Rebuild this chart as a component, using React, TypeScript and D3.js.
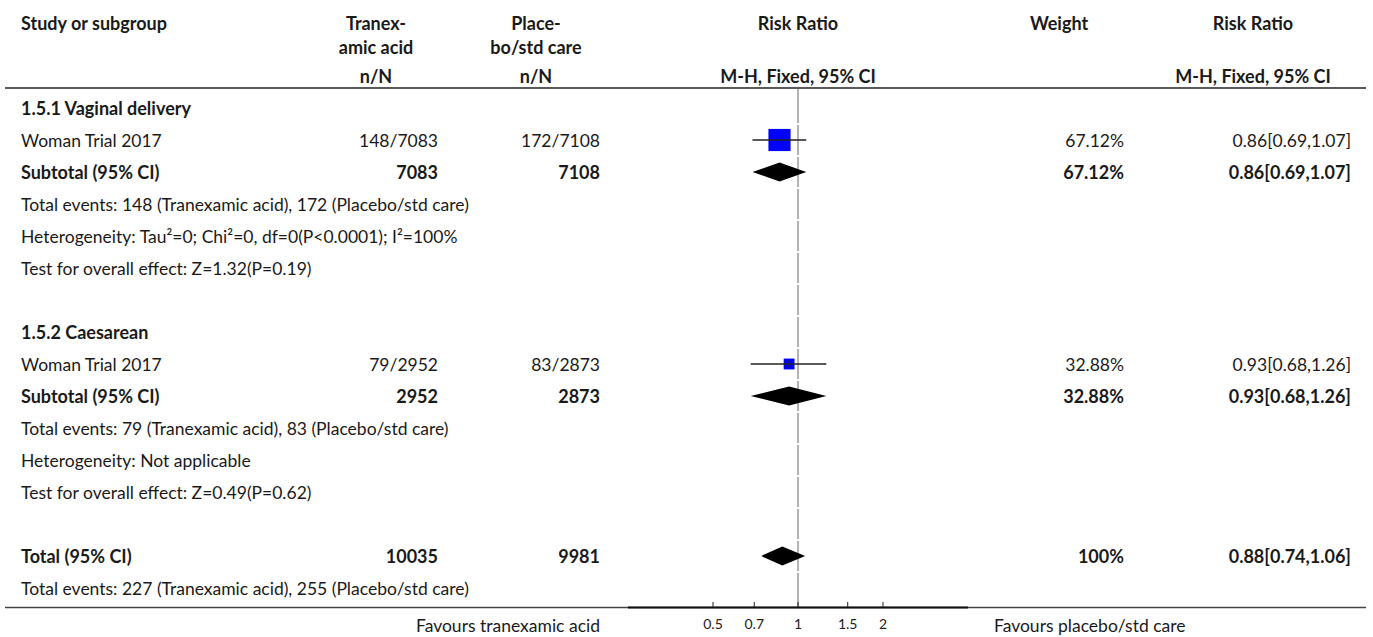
import * as d3 from "d3";

// forest plot: tranexamic acid vs placebo/std care, by mode of delivery
const groupLabels = ["1.5.1 Vaginal delivery", "1.5.2 Caesarean"];
const studyNames = ["Woman Trial 2017", "Woman Trial 2017"];
const txEvents = [148, 79];
const txTotal = [7083, 2952];
const ctEvents = [172, 83];
const ctTotal = [7108, 2873];
const studyRR = [0.86, 0.93];
const studyLo = [0.69, 0.68];
const studyHi = [1.07, 1.26];
const weights = [67.12, 32.88];
const heterogeneity = [
  "Heterogeneity: Tau\u00b2=0; Chi\u00b2=0, df=0(P<0.0001); I\u00b2=100%",
  "Heterogeneity: Not applicable",
];
const overallEffect = [
  "Test for overall effect: Z=1.32(P=0.19)",
  "Test for overall effect: Z=0.49(P=0.62)",
];
const totalN = [10035, 9981];
const totalEvents = [227, 255];
const totalRR = [0.88, 0.74, 1.06];
const axisTicks = [0.5, 0.7, 1, 1.5, 2];

const W = 1373;
const H = 637;
const FONT = "Lato, 'Noto Sans', sans-serif";
const fmt = d3.format(".2f");

export default function App() {
  const x = d3.scaleLog().domain([0.25, 4]).range([628, 968]);
  const size = d3.scaleLinear().domain([0, 100]).range([0, 33]);
  const rowY = (i: number) => 108 + 32 * i;
  const axisY = 607.5;

  const colStudy = 21;
  const colTx = 438;
  const colCt = 600;
  const colW = 1124;
  const colRR = 1351;

  const ciText = (m: number, lo: number, hi: number) => `${fmt(m)}[${fmt(lo)},${fmt(hi)}]`;

  const rows: any[] = [];
  groupLabels.forEach((g, k) => {
    const base = k * 7;
    rows.push({ i: base, kind: "group", label: g });
    rows.push({ i: base + 1, kind: "study", k });
    rows.push({ i: base + 2, kind: "subtotal", k });
    rows.push({ i: base + 3, kind: "note", label: `Total events: ${txEvents[k]} (Tranexamic acid), ${ctEvents[k]} (Placebo/std care)` });
    rows.push({ i: base + 4, kind: "note", label: heterogeneity[k] });
    rows.push({ i: base + 5, kind: "note", label: overallEffect[k] });
  });

  const diamond = (y: number, m: number, lo: number, hi: number) =>
    `M${x(lo)},${y} L${x(m)},${y - 9.5} L${x(hi)},${y} L${x(m)},${y + 9.5} Z`;

  const textBase = { fontFamily: FONT, fontSize: 17.5, fill: "#1a1a1a", dominantBaseline: "central" as const };
  const bold = { ...textBase, fontSize: 18, fontWeight: 700 };

  // grey reference line at RR=1, drawn in row-sized segments
  const refSegs = d3.range(16).map((i) => [i === 0 ? 89 : rowY(i) - 15, i === 15 ? axisY : rowY(i) + 15]);

  return (
    <svg width={W} height={H} style={{ position: "absolute", left: 0, top: 0, background: "#fff" }}>
      {/* header */}
      <text x={colStudy} y={23} {...bold}>Study or subgroup</text>
      <text x={376} y={23} textAnchor="middle" {...bold}>Tranex-</text>
      <text x={376} y={47} textAnchor="middle" {...bold}>amic acid</text>
      <text x={376} y={76} textAnchor="middle" {...bold}>n/N</text>
      <text x={536} y={23} textAnchor="middle" {...bold}>Place-</text>
      <text x={536} y={47} textAnchor="middle" {...bold}>bo/std care</text>
      <text x={536} y={76} textAnchor="middle" {...bold}>n/N</text>
      <text x={x(1)} y={23} textAnchor="middle" {...bold}>Risk Ratio</text>
      <text x={x(1)} y={76} textAnchor="middle" {...bold}>M-H, Fixed, 95% CI</text>
      <text x={1059} y={23} textAnchor="middle" {...bold}>Weight</text>
      <text x={1253} y={23} textAnchor="middle" {...bold}>Risk Ratio</text>
      <text x={1253} y={76} textAnchor="middle" {...bold}>M-H, Fixed, 95% CI</text>
      <line x1={5} x2={1366} y1={88} y2={88} stroke="#222" strokeWidth={1.5} />

      {refSegs.map(([a, b], j) => (
        <line key={j} x1={x(1)} x2={x(1)} y1={a} y2={b} stroke="#9a9a9a" strokeWidth={1.5} />
      ))}

      {rows.map((r) => {
        const y = rowY(r.i);
        if (r.kind === "group") return <text key={r.i} x={colStudy} y={y} {...bold}>{r.label}</text>;
        if (r.kind === "note") return <text key={r.i} x={colStudy} y={y} {...textBase}>{r.label}</text>;
        const k = r.k;
        if (r.kind === "study") {
          const s = size(weights[k]);
          return (
            <g key={r.i}>
              <text x={colStudy} y={y} {...textBase}>{studyNames[k]}</text>
              <text x={colTx} y={y} textAnchor="end" {...textBase}>{`${txEvents[k]}/${txTotal[k]}`}</text>
              <text x={colCt} y={y} textAnchor="end" {...textBase}>{`${ctEvents[k]}/${ctTotal[k]}`}</text>
              <rect x={x(studyRR[k]) - s / 2} y={y - s / 2} width={s} height={s} fill="#0000ff" />
              <line x1={x(studyLo[k])} x2={x(studyHi[k])} y1={y} y2={y} stroke="#222" strokeWidth={1.5} />
              <line x1={x(studyRR[k])} x2={x(studyRR[k])} y1={y - 4} y2={y + 4} stroke="#222" strokeWidth={1.2} />
              <text x={colW} y={y} textAnchor="end" {...textBase}>{`${weights[k]}%`}</text>
              <text x={colRR} y={y} textAnchor="end" {...textBase}>{ciText(studyRR[k], studyLo[k], studyHi[k])}</text>
            </g>
          );
        }
        return (
          <g key={r.i}>
            <text x={colStudy} y={y} {...bold}>Subtotal (95% CI)</text>
            <text x={colTx} y={y} textAnchor="end" {...bold}>{txTotal[k]}</text>
            <text x={colCt} y={y} textAnchor="end" {...bold}>{ctTotal[k]}</text>
            <path d={diamond(y, studyRR[k], studyLo[k], studyHi[k])} fill="#000" />
            <text x={colW} y={y} textAnchor="end" {...bold}>{`${weights[k]}%`}</text>
            <text x={colRR} y={y} textAnchor="end" {...bold}>{ciText(studyRR[k], studyLo[k], studyHi[k])}</text>
          </g>
        );
      })}

      {/* overall */}
      <text x={colStudy} y={rowY(14)} {...bold}>Total (95% CI)</text>
      <text x={colTx} y={rowY(14)} textAnchor="end" {...bold}>{totalN[0]}</text>
      <text x={colCt} y={rowY(14)} textAnchor="end" {...bold}>{totalN[1]}</text>
      <path d={diamond(rowY(14), totalRR[0], totalRR[1], totalRR[2])} fill="#000" />
      <text x={colW} y={rowY(14)} textAnchor="end" {...bold}>{`${d3.sum(weights).toFixed(0)}%`}</text>
      <text x={colRR} y={rowY(14)} textAnchor="end" {...bold}>{ciText(totalRR[0], totalRR[1], totalRR[2])}</text>
      <text x={colStudy} y={rowY(15)} {...textBase}>
        {`Total events: ${totalEvents[0]} (Tranexamic acid), ${totalEvents[1]} (Placebo/std care)`}
      </text>

      {/* bottom rule + axis */}
      <line x1={5} x2={1366} y1={axisY} y2={axisY} stroke="#444" strokeWidth={1.3} />
      <line x1={x.range()[0]} x2={x.range()[1]} y1={axisY} y2={axisY} stroke="#111" strokeWidth={2} />
      {axisTicks.map((t) => (
        <g key={t}>
          <line x1={x(t)} x2={x(t)} y1={602} y2={607} stroke="#222" strokeWidth={1} />
          <text x={x(t)} y={623} textAnchor="middle" fontFamily={FONT} fontSize={14} fill="#222" dominantBaseline="central">{t}</text>
        </g>
      ))}
      <text x={600} y={625} textAnchor="end" {...textBase}>Favours tranexamic acid</text>
      <text x={994} y={625} {...textBase}>Favours placebo/std care</text>
    </svg>
  );
}
